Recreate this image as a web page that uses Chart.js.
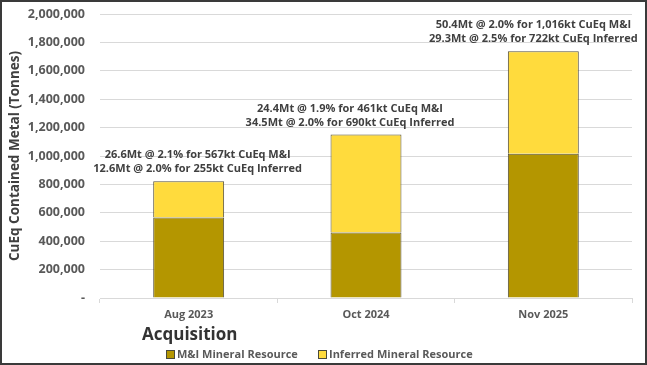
<!DOCTYPE html>
<html><head><meta charset="utf-8">
<script src="https://cdn.jsdelivr.net/npm/chart.js@4"></script>
<style>
html,body{margin:0;padding:0;background:#fff;}
#wrap{position:absolute;left:0;top:0;width:647px;height:365px;box-sizing:border-box;border:2px solid #3a3a3a;background:#fff;}
canvas{display:block;}
</style></head>
<body><div id="wrap"><canvas id="c" width="643" height="361"></canvas></div>
<script>
const categories = ['Aug 2023', 'Oct 2024', 'Nov 2025'];
const mAndI = [567000, 461000, 1016000];
const inferred = [255000, 690000, 722000];
const annotationLine1 = ['26.6Mt @ 2.1% for 567kt CuEq M&I', '24.4Mt @ 1.9% for 461kt CuEq M&I', '50.4Mt @ 2.0% for 1,016kt CuEq M&I'];
const annotationLine2 = ['12.6Mt @ 2.0% for 255kt CuEq Inferred', '34.5Mt @ 2.0% for 690kt CuEq Inferred', '29.3Mt @ 2.5% for 722kt CuEq Inferred'];
const seriesNames = ['M&I Mineral Resource', 'Inferred Mineral Resource'];
const yTitle = 'CuEq Contained Metal (Tonnes)';
const xTitle = 'Acquisition';

const FONT = '"Open Sans", "Liberation Sans", sans-serif';
const labelShift = [9, -16, -10];

const annot = {
  id: 'annot',
  afterDatasetsDraw(chart) {
    const ctx = chart.ctx;
    const meta = chart.getDatasetMeta(1);
    ctx.save();
    ctx.font = 'bold 11px ' + FONT;
    ctx.fillStyle = '#404040';
    ctx.textAlign = 'center';
    ctx.textBaseline = 'middle';
    meta.data.forEach((bar, i) => {
      ctx.fillText(annotationLine1[i], bar.x + labelShift[i], bar.y - 26);
      ctx.fillText(annotationLine2[i], bar.x + labelShift[i], bar.y - 12);
    });
    // x title
    ctx.font = 'bold 17px ' + FONT;
    ctx.fillStyle = '#333333';
    ctx.textAlign = 'left';
    ctx.fillText(xTitle, 140, 333);
    // legend
    ctx.font = 'bold 11px ' + FONT;
    const items = [[164, 0], [316, 1]];
    items.forEach(([x, di]) => {
      const ds = chart.data.datasets[di];
      ctx.fillStyle = ds.backgroundColor;
      ctx.fillRect(x + 0.5, 348.5, 8, 8);
      ctx.strokeStyle = '#4a4a3a';
      ctx.lineWidth = 1;
      ctx.strokeRect(x + 0.5, 348.5, 8, 8);
      ctx.fillStyle = '#595959';
      ctx.fillText(ds.label, x + 11, 353);
    });
    ctx.restore();
  }
};

new Chart(document.getElementById('c'), {
  type: 'bar',
  data: {
    labels: categories,
    datasets: [
      { label: seriesNames[0], data: mAndI, backgroundColor: '#B49600', borderColor: '#55503a', borderWidth: 1, categoryPercentage: 1, barPercentage: 0.4 },
      { label: seriesNames[1], data: inferred, backgroundColor: '#FFDB3D', borderColor: '#55503a', borderWidth: 1, categoryPercentage: 1, barPercentage: 0.4 }
    ]
  },
  options: {
    responsive: false,
    animation: false,
    devicePixelRatio: 1,
    layout: { padding: { left: 0, right: 13, top: 12, bottom: 0 } },
    plugins: {
      legend: { display: false },
      tooltip: { enabled: false }
    },
    scales: {
      x: {
        stacked: true,
        afterFit: s => { s.height = 65; },
        grid: { display: true, drawOnChartArea: false, drawTicks: true, tickLength: 5, color: '#d9d9d9' },
        border: { color: '#d9d9d9' },
        ticks: { font: { family: FONT, size: 11, weight: 'bold' }, color: '#595959', padding: 5 }
      },
      y: {
        stacked: true,
        min: 0, max: 2000000,
        afterFit: s => { s.width = 98; s.paddingTop = 0; s.paddingBottom = 0; },
        ticks: {
          stepSize: 200000,
          font: { family: FONT, size: 12.5, weight: 'bold' }, color: '#595959', padding: 15,
          callback: v => v === 0 ? '-' : v.toLocaleString('en-US')
        },
        grid: { color: '#d9d9d9', drawTicks: false },
        border: { display: false },
        title: { display: true, text: yTitle, font: { family: FONT, size: 13.5, weight: 'bold' }, color: '#404040', padding: { top: 5, bottom: 0 } }
      }
    }
  },
  plugins: [annot]
});
</script></body></html>
